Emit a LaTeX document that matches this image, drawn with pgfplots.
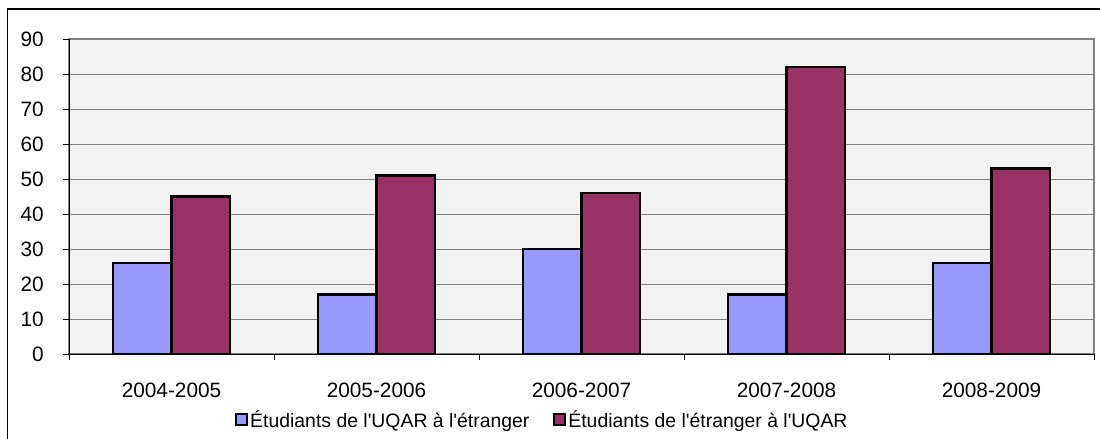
\documentclass[border=0pt]{standalone}
\usepackage{fontspec}
\setmainfont{Liberation Sans}
\usepackage{pgfplots}
\pgfplotsset{compat=1.18}
\definecolor{cblue}{HTML}{9999FF}
\definecolor{cred}{HTML}{993366}
\definecolor{bgc}{HTML}{F2F2F2}
\definecolor{gridc}{HTML}{808080}
\newcommand{\fs}{\fontsize{20.8bp}{25bp}\selectfont}
\newcommand{\fl}{\fontsize{19.4bp}{23bp}\selectfont}
\begin{document}
\begin{tikzpicture}
\path[use as bounding box] (0,0) rectangle (1100bp,439bp);
\clip (0,0) rectangle (1100bp,439bp);
\draw[line width=1.5bp, black] (7.5bp,-5bp) rectangle (1105bp,430bp);
\begin{axis}[
  at={(69bp,85bp)}, anchor=south west,
  scale only axis, width=1025bp, height=315bp,
  xmin=-0.5, xmax=4.5, ymin=0, ymax=90,
  ytick={0,10,...,90},
  xtick={0,1,2,3,4},
  xticklabels={2004-2005,2005-2006,2006-2007,2007-2008,2008-2009},
  minor xtick={-0.5,0.5,1.5,2.5,3.5,4.5},
  tick align=outside,
  major tick length=6bp, minor tick length=6bp,
  every major x tick/.append style={draw=none},
  tick style={black, line width=0.8bp},
  axis x line*=bottom, axis y line*=left,
  axis line style={black, line width=1bp, -},
  axis background/.style={fill=bgc, draw=gridc, line width=1.5bp},
  ymajorgrids, grid style={gridc, line width=1bp},
  /pgf/number format/assume math mode=true,
  ticklabel style={font=\fs},
  yticklabel style={anchor=east, inner sep=0pt, xshift=-19bp},
  xticklabel style={anchor=base, inner sep=0pt, yshift=-37bp},
  ybar=0pt, bar width=58.5bp,
  legend columns=2,
  legend style={at={(0.162,-0.2095)}, anchor=west, draw=none, fill=none,
     font=\fl, inner sep=0pt,
     nodes={inner sep=2bp},
     /tikz/every even column/.append style={column sep=22bp}},
  legend image code/.code={\draw[#1,draw=black,line width=2bp] (0bp,-5.5bp) rectangle (11bp,5.5bp);},
]
\addplot[fill=cblue, draw=black, line width=2.2bp] coordinates {(0,26) (1,17) (2,30) (3,17) (4,26)};
\addplot[fill=cred, draw=black, line width=2.2bp] coordinates {(0,45) (1,51) (2,46) (3,82) (4,53)};
\legend{Étudiants de l\textquotesingle UQAR à l\textquotesingle étranger, Étudiants de l\textquotesingle étranger à l\textquotesingle UQAR}
\end{axis}
\end{tikzpicture}
\end{document}
